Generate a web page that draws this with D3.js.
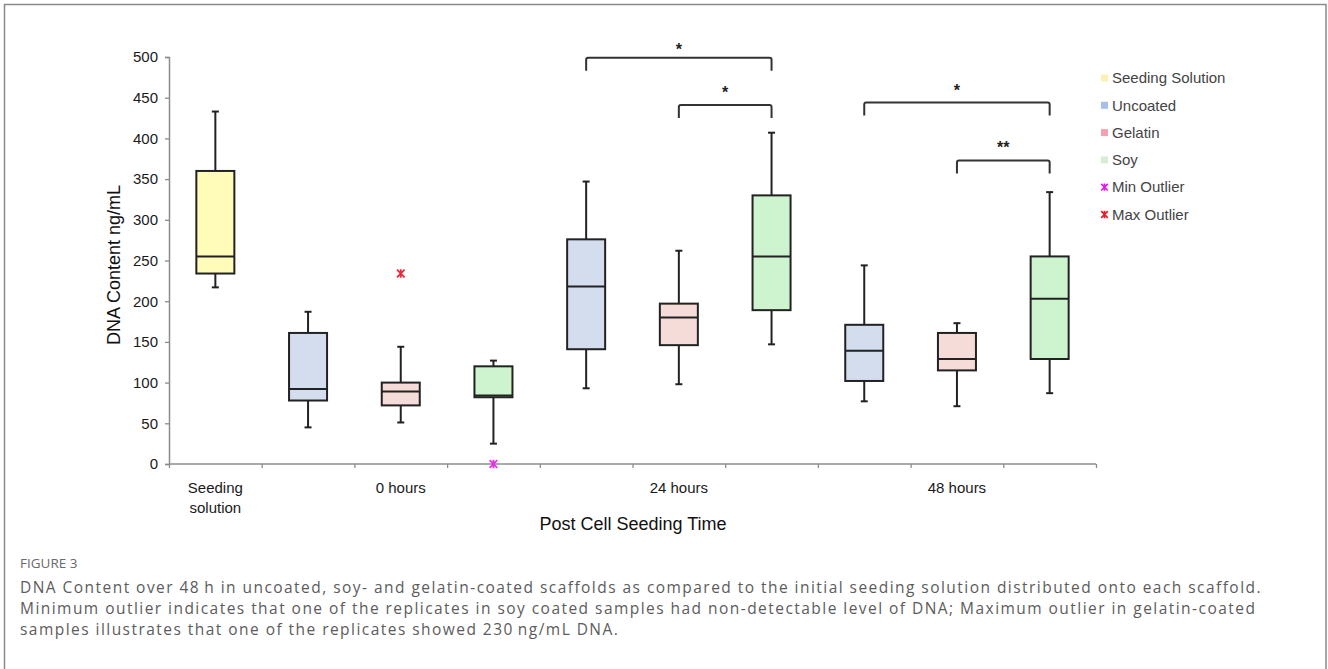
<!DOCTYPE html>
<html><head><meta charset="utf-8">
<script src="https://cdn.jsdelivr.net/npm/d3@7"></script>
<style>
html,body{margin:0;padding:0;background:#fff;}
svg{display:block;}
</style></head>
<body>
<svg id="chart" width="1328" height="669"></svg>
<script>
// ---------- DATA ----------
const groupLabels = ["Seeding\nsolution", "0 hours", "24 hours", "48 hours"];
const groupLabelBand = [0, 2, 5, 8];
const boxSeries = ["Seeding Solution","Uncoated","Gelatin","Soy","Uncoated","Gelatin","Soy","Uncoated","Gelatin","Soy"];
const boxIds = ["S","U0","G0","S0","U24","G24","S24","U48","G48","S48"];
const whiskerLow  = [217, 45, 51, 25, 93, 98, 147, 77, 71, 87];
const q1          = [234, 78, 72, 82, 141, 146, 189, 102, 115, 129];
const medians     = [255, 92, 89, 84, 218, 180, 255, 139, 129, 203];
const q3          = [360, 161, 100, 120, 276, 197, 330, 171, 161, 255];
const whiskerHigh = [433, 187, 144, 127, 347, 262, 407, 244, 173, 334];
const outlierBox   = ["G0", "S0"];
const outlierValue = [234, 0];
const outlierType  = ["Max Outlier", "Min Outlier"];
const bracketFrom  = ["U24", "G24", "U48", "G48"];
const bracketTo    = ["S24", "S24", "S48", "S48"];
const bracketValue = [499, 441, 444, 373];
const bracketLabel = ["*", "*", "*", "**"];
const yTicks = [0, 50, 100, 150, 200, 250, 300, 350, 400, 450, 500];
const legendNames = ["Seeding Solution", "Uncoated", "Gelatin", "Soy", "Min Outlier", "Max Outlier"];
const captionTitle = "FIGURE 3";
const captionLines = [
  "DNA Content over 48\u2009h in uncoated, soy- and gelatin-coated scaffolds as compared to the initial seeding solution distributed onto each scaffold.",
  "Minimum outlier indicates that one of the replicates in soy coated samples had non-detectable level of DNA; Maximum outlier in gelatin-coated",
  "samples illustrates that one of the replicates showed 230\u2009ng/mL DNA."
];

// ---------- STYLE ----------
const FONT = "'Liberation Sans', Arial, sans-serif";
const boxFill = {"Seeding Solution":"#fffbb8","Uncoated":"#d3ddee","Gelatin":"#f6dcd8","Soy":"#cef4cf"};
const legendFill = {"Seeding Solution":"#fdf0b5","Uncoated":"#a9c0e6","Gelatin":"#f3a0b2","Soy":"#d8ebd4","Min Outlier":"#e020e0","Max Outlier":"#e8202a"};
const outColor = {"Max Outlier":"#ec2a3a","Min Outlier":"#e533e8"};

const svg = d3.select("#chart");
svg.append("rect").attr("x",4.5).attr("y",4.5).attr("width",1321.5).attr("height",700)
  .attr("fill","none").attr("stroke","#8a8a8a").attr("stroke-width",1.5);

const x = d3.scaleBand().domain(boxIds).range([169, 1096]).paddingInner(0).paddingOuter(0);
const y = d3.scaleLinear().domain([0, 500]).range([464, 57]);
const bw = x.bandwidth() * 0.41;
const cx = id => x(id) + x.bandwidth() / 2;

// Y axis
const yAxis = svg.append("g").attr("transform","translate(169,0)")
  .call(d3.axisLeft(y).tickValues(yTicks).tickSize(4).tickPadding(7));
yAxis.select(".domain").attr("stroke","#8c8c8c").attr("stroke-width",1.5);
yAxis.selectAll(".tick line").attr("stroke","#8c8c8c").attr("stroke-width",1.3);
yAxis.selectAll(".tick text").attr("font-family",FONT)
  .attr("font-size",15).attr("fill","#1a1a1a");

// X axis (ticks at band boundaries)
const xb = d3.scaleLinear().domain([0, boxIds.length]).range([169, 1096]);
const xAxis = svg.append("g").attr("transform","translate(0,464)")
  .call(d3.axisBottom(xb).tickValues(d3.range(0, boxIds.length + 1)).tickSize(4).tickFormat(""));
xAxis.select(".domain").attr("stroke","#8c8c8c").attr("stroke-width",1.5).attr("d","M169,0H1096");
xAxis.selectAll(".tick line").attr("stroke","#8c8c8c").attr("stroke-width",1.3);

// group labels
groupLabels.forEach((lab, i) => {
  const t = svg.append("text").attr("x", cx(boxIds[groupLabelBand[i]]))
    .attr("y", 488).attr("text-anchor","middle")
    .attr("font-family",FONT).attr("font-size",15).attr("fill","#1a1a1a");
  lab.split("\n").forEach((s, k) => {
    t.append("tspan").attr("x", cx(boxIds[groupLabelBand[i]])).attr("dy", k === 0 ? "0.35em" : 20).text(s);
  });
});

// axis titles
svg.append("text").attr("transform","translate(120,265) rotate(-90)")
  .attr("text-anchor","middle").attr("font-family",FONT)
  .attr("font-size",18).attr("fill","#111").text("DNA Content ng/mL");
svg.append("text").attr("x",633).attr("y",530).attr("text-anchor","middle")
  .attr("font-family",FONT)
  .attr("font-size",18).attr("fill","#111").text("Post Cell Seeding Time");

// boxes
const boxes = boxIds.map((id, i) => ({id, series: boxSeries[i], lo: whiskerLow[i], q1: q1[i], med: medians[i], q3: q3[i], hi: whiskerHigh[i]}));
const g = svg.append("g").attr("stroke","#222").attr("stroke-width",2);
const capW = 7;
boxes.forEach(b => {
  const c = cx(b.id);
  g.append("line").attr("x1",c).attr("x2",c).attr("y1",y(b.q3)).attr("y2",y(b.hi));
  g.append("line").attr("x1",c-capW/2).attr("x2",c+capW/2).attr("y1",y(b.hi)).attr("y2",y(b.hi));
  g.append("line").attr("x1",c).attr("x2",c).attr("y1",y(b.q1)).attr("y2",y(b.lo));
  g.append("line").attr("x1",c-capW/2).attr("x2",c+capW/2).attr("y1",y(b.lo)).attr("y2",y(b.lo));
  g.append("rect").attr("x",c-bw/2).attr("width",bw).attr("y",y(b.q3)).attr("height",y(b.q1)-y(b.q3))
    .attr("fill",boxFill[b.series]);
  g.append("line").attr("x1",c-bw/2).attr("x2",c+bw/2).attr("y1",y(b.med)).attr("y2",y(b.med));
});

// outliers (asterisk markers)
function starPath(px, py, r) {
  return `M${px-r},${py-r}L${px+r},${py+r}M${px+r},${py-r}L${px-r},${py+r}M${px},${py-r*1.1}L${px},${py+r*1.1}`;
}
outlierBox.forEach((id, i) => {
  svg.append("path").attr("d", starPath(cx(id), y(outlierValue[i]), 3.8))
    .attr("stroke", outColor[outlierType[i]]).attr("stroke-width",1.8).attr("fill","none");
});

// significance brackets
const leg = 13;
bracketFrom.forEach((f, i) => {
  const x1 = cx(f), x2 = cx(bracketTo[i]), yy = y(bracketValue[i]);
  svg.append("path").attr("d", `M${x1},${yy+leg}V${yy+2}Q${x1},${yy} ${x1+2},${yy}H${x2-2}Q${x2},${yy} ${x2},${yy+2}V${yy+leg}`)
    .attr("fill","none").attr("stroke","#333").attr("stroke-width",2);
  svg.append("text").attr("x",(x1+x2)/2).attr("y", yy - (i === 0 ? 3 : 7))
    .attr("text-anchor","middle").attr("font-family",FONT)
    .attr("font-weight","bold").attr("font-size",16).attr("fill","#222").text(bracketLabel[i]);
});

// legend
const lg = svg.append("g").attr("font-family",FONT).attr("font-size",15).attr("fill","#444");
legendNames.forEach((n, i) => {
  const yy = 78 + i * 27.3;
  if (n.includes("Outlier")) {
    lg.append("path").attr("d", starPath(1104.5, yy, 3.3)).attr("stroke", legendFill[n]).attr("stroke-width",1.7).attr("fill","none");
  } else {
    lg.append("rect").attr("x",1101).attr("y",yy-3.5).attr("width",7).attr("height",7).attr("fill",legendFill[n]);
  }
  lg.append("text").attr("x",1112).attr("y",yy).attr("dy","0.35em").text(n);
});

// caption
const CAPFONT = "'Open Sans', Lato, sans-serif";
svg.append("text").attr("x",20).attr("y",568).attr("font-family",CAPFONT)
  .attr("font-size",13.5).attr("fill","#6a6a6a").text(captionTitle);
const capG = svg.append("g").attr("font-family",CAPFONT).attr("fill","#5c5c5c");
const lines = captionLines.map((s, i) => capG.append("text").attr("x",20).attr("y",593 + i*21).attr("font-size",15.5).text(s));
const w = lines[0].node().getComputedTextLength();
const ls = (1242 - w) / captionLines[0].length;
lines.forEach(l => l.attr("letter-spacing", ls));
</script>
</body></html>
